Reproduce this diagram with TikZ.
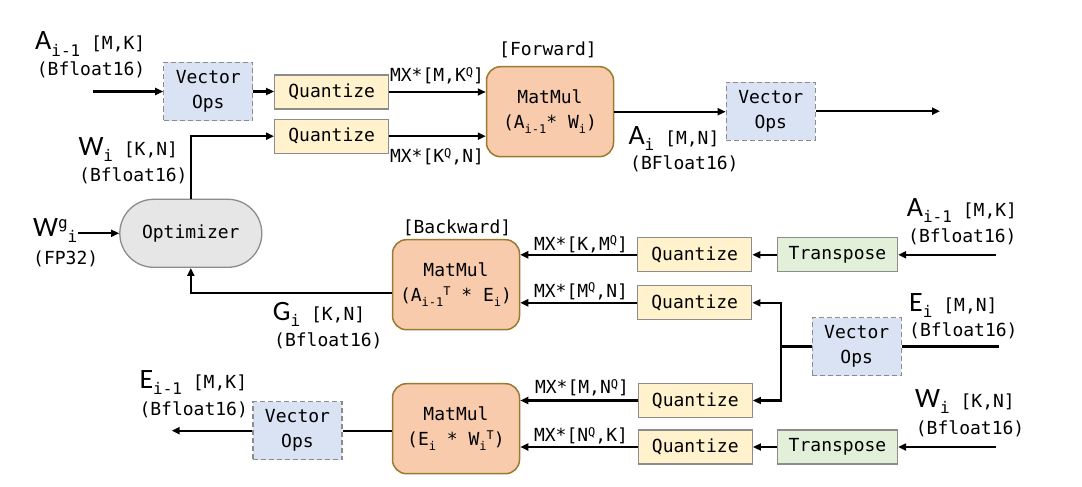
\documentclass[tikz,border=0pt]{standalone}
\usepackage{fontspec}
\setmainfont{DejaVu Sans Mono}
\newfontfamily\bigfont{Carlito}
\usetikzlibrary{arrows.meta}

\definecolor{vecfill}{HTML}{DAE3F3}
\definecolor{quantfill}{HTML}{FFF2CC}
\definecolor{transfill}{HTML}{E2F0D9}
\definecolor{mmfill}{HTML}{F8CBAD}
\definecolor{mmline}{HTML}{9A7B2E}
\definecolor{optfill}{HTML}{E7E6E6}
\definecolor{boxline}{HTML}{8C8C8C}

\newcommand{\lowtext}[1]{\raisebox{-0.3em}{\fontsize{12}{12}\selectfont #1}}
\newcommand{\hightext}[1]{\raisebox{0.3em}{\fontsize{12}{12}\selectfont #1}}
\newcommand{\bigvar}[1]{{\bigfont\fontsize{28}{28}\selectfont #1}}
\newcommand{\varsub}[1]{\raisebox{-6pt}{\fontsize{16}{16}\selectfont #1}}
\newcommand{\varsup}[1]{\raisebox{8pt}{\fontsize{16}{16}\selectfont #1}}

\tikzset{
    txt/.style={font=\fontsize{18}{25}\selectfont},
    vecbox/.style={txt, draw=boxline, dash pattern=on 5pt off 3pt, line width=1.3pt, fill=vecfill, minimum width=89pt, minimum height=58pt, inner sep=0pt, align=center},
    quantbox/.style={txt, draw=boxline, line width=1.3pt, fill=quantfill, minimum width=114pt, minimum height=34pt, inner sep=0pt},
    transbox/.style={quantbox, fill=transfill, minimum width=120pt},
    mmbox/.style={txt, draw=mmline, line width=1.5pt, fill=mmfill, rounded corners=14pt, minimum width=127pt, minimum height=90pt, inner sep=0pt, align=center},
    optbox/.style={txt, draw=boxline, line width=1.3pt, fill=optfill, rounded corners=33.9pt, minimum width=142pt, minimum height=68pt, inner sep=0pt},
    lbl/.style={txt, inner sep=0pt, anchor=base west},
    mxlbl/.style={txt, inner sep=0pt, anchor=base},
    conn/.style={line width=2.3pt},
    arr/.style={conn, -{Triangle[length=8pt,width=7pt]}},
}

\begin{document}
\begin{tikzpicture}[x=1pt,y=-1pt]
    \useasboundingbox (0,0) rectangle (1082,487);

    % forward pass
    \node[vecbox] (vo1) at (208.3,91.5) {Vector\\Ops};
    \node[quantbox] (q1) at (331.7,92) {Quantize};
    \node[quantbox] (q2) at (331.7,136.2) {Quantize};
    \node[mmbox] (mmf) at (550,111.7) {MatMul\\(A\lowtext{i-1}* W\lowtext{i})};
    \node[vecbox] (vo2) at (770.8,111.2) {Vector\\Ops};
    \node[mxlbl] (fwd) at (548,56) {[Forward]};

    % optimizer
    \node[optbox] (opt) at (190.8,233.3) {Optimizer};

    % backward pass
    \node[mmbox] (mmb) at (456,284.7) {MatMul\\(A\lowtext{i-1}\hightext{T} * E\lowtext{i})};
    \node[mxlbl] (bwd) at (457,233) {[Backward]};
    \node[quantbox] (q3) at (694.7,254.8) {Quantize};
    \node[quantbox] (q4) at (694.7,302.8) {Quantize};
    \node[transbox] (tr1) at (837.5,254.8) {Transpose};
    \node[vecbox] (vo3) at (856.7,346.5) {Vector\\Ops};
    \node[mmbox] (mmw) at (456,428.7) {MatMul\\(E\lowtext{i} * W\lowtext{i}\hightext{T})};
    \node[quantbox] (q5) at (695.3,400.5) {Quantize};
    \node[quantbox] (q6) at (695.3,447) {Quantize};
    \node[transbox] (tr2) at (837.5,447) {Transpose};
    \node[vecbox] (vo4) at (297.5,430.7) {Vector\\Ops};

    % operand labels
    \node[mxlbl] (mx1) at (437,81.5) {MX*[M,K\hightext{Q}]};
    \node[mxlbl] (mx2) at (437,162.5) {MX*[K\hightext{Q},N]};
    \node[mxlbl] (mx3) at (581,250) {MX*[K,M\hightext{Q}]};
    \node[mxlbl] (mx4) at (581,297) {MX*[M\hightext{Q},N]};
    \node[mxlbl] (mx5) at (582,393.5) {MX*[M,N\hightext{Q}]};
    \node[mxlbl] (mx6) at (581,441.5) {MX*[N\hightext{Q},K]};

    % tensor labels
    \node[lbl] (aprev) at (35,50) {\bigvar{A}\varsub{i-1} [M,K]};
    \node[lbl] (aprevt) at (36.7,76) {(Bfloat16)};
    \node[lbl] (wname) at (78.3,155) {\bigvar{W}\varsub{i} [K,N]};
    \node[lbl] (wnamet) at (79,181) {(Bfloat16)};
    \node[lbl] (wgrad) at (33,236.7) {\bigvar{W}\varsup{g}\varsub{i}};
    \node[lbl] (wgradt) at (33,264) {(FP32)};
    \node[lbl] (aout) at (628.3,144) {\bigvar{A}\varsub{i} [M,N]};
    \node[lbl] (aoutt) at (630,169) {(BFloat16)};
    \node[lbl] (gname) at (272.7,320) {\bigvar{G}\varsub{i} [K,N]};
    \node[lbl] (gnamet) at (274,346) {(Bfloat16)};
    \node[lbl] (aprevb) at (906.7,216.7) {\bigvar{A}\varsub{i-1} [M,K]};
    \node[lbl] (aprevbt) at (908,242) {(Bfloat16)};
    \node[lbl] (ename) at (909,311) {\bigvar{E}\varsub{i} [M,N]};
    \node[lbl] (enamet) at (909,336) {(Bfloat16)};
    \node[lbl] (wnameb) at (915,407) {\bigvar{W}\varsub{i} [K,N]};
    \node[lbl] (wnamebt) at (915.7,434) {(Bfloat16)};
    \node[lbl] (eprev) at (139.3,388) {\bigvar{E}\varsub{i-1} [M,K]};
    \node[lbl] (eprevt) at (139.3,415) {(Bfloat16)};

    % free ends
    \coordinate (ain) at (93.3,91.5);
    \coordinate (aend) at (940,111.2);
    \coordinate (wgin) at (78,233.3);
    \coordinate (ainb) at (996,254.8);
    \coordinate (ein) at (999,346.5);
    \coordinate (jn) at (781,346.5);
    \coordinate (win) at (996,447);
    \coordinate (eend) at (171.7,430.7);

    \draw[arr] (ain) -- (vo1);
    \draw[arr] (vo1.east) -- (vo1.east -| q1.west);
    \draw[arr] (q1.east) -- (q1.east -| mmf.west);
    \draw[arr] (q2.east) -- (q2.east -| mmf.west);
    \draw[arr] (mmf.east) -- (mmf.east -| vo2.west);
    \draw[arr] (vo2.east) -- (aend);
    \draw[arr] (opt.north) |- (q2.west);
    \draw[arr] (wgin) -- (opt.west);
    \draw[arr] ([yshift=-8pt]mmb.west) -| (opt.south);
    \draw[arr] (ainb) -- (tr1);
    \draw[arr] (tr1) -- (q3);
    \draw[arr] (q3.west) -- (q3.west -| mmb.east);
    \draw[arr] (q4.west) -- (q4.west -| mmb.east);
    \draw[conn] (ein) -- (vo3.east);
    \draw[conn] (vo3.west) -- (jn);
    \draw[arr] (jn) |- (q4.east);
    \draw[arr] (jn) |- (q5.east);
    \draw[arr] (q5.west) -- (q5.west -| mmw.east);
    \draw[arr] (win) -- (tr2);
    \draw[arr] (tr2) -- (q6);
    \draw[arr] (q6.west) -- (q6.west -| mmw.east);
    \draw[conn] (vo4.east) -- (vo4.east -| mmw.west);
    \draw[arr] (vo4.west) -- (eend);
\end{tikzpicture}
\end{document}
